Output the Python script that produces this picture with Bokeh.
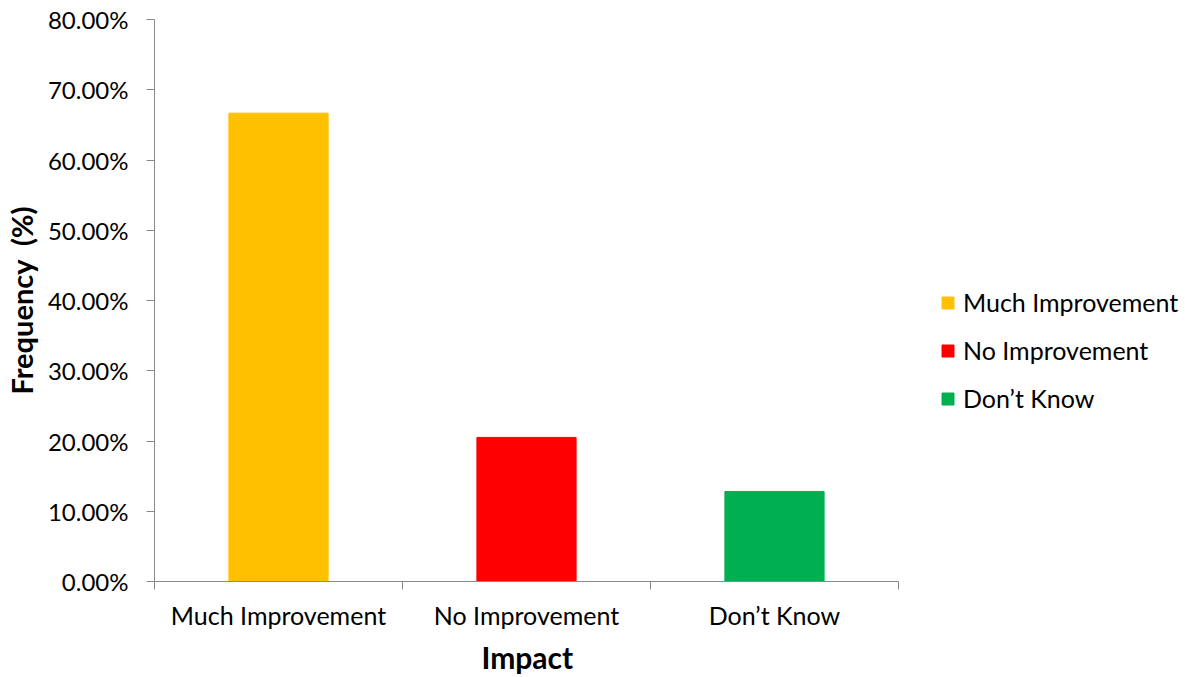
from bokeh.plotting import figure
from bokeh.models import (ColumnDataSource, FixedTicker, NumeralTickFormatter,
                          Range1d, Legend, LegendItem, Title)
from bokeh.embed import file_html
from bokeh.resources import INLINE

# Survey responses: share of respondents per perceived impact
categories = ["Much Improvement", "No Improvement", "Don\u2019t Know"]
frequency = [0.6667, 0.2051, 0.1282]
colors = ["#FFC000", "#FF0000", "#00B050"]
y_ticks = [0.0, 0.1, 0.2, 0.3, 0.4, 0.5, 0.6, 0.7, 0.8]

FONT = "Lato"
AXIS_GRAY = "#898989"

n = len(categories)
positions = [i + 0.5 for i in range(n)]
source = ColumnDataSource(dict(x=positions, top=frequency, color=colors, label=categories))

# the bar area spans 744 px; the frame continues to the right to hold the legend
BAR_AREA = 744
FRAME_W = 1031
p = figure(frame_width=FRAME_W, frame_height=562, output_backend="svg", toolbar_location=None,
           x_range=Range1d(0, n * FRAME_W / BAR_AREA), y_range=Range1d(0, 0.8))
p.min_border_left = 154
p.min_border_right = 0
p.min_border_top = 19
p.min_border_bottom = 0
p.outline_line_color = None
p.xgrid.visible = False
p.ygrid.visible = False

r = p.vbar(x="x", top="top", width=0.4, color="color", source=source)

# y axis: percentage ticks
p.yaxis.ticker = FixedTicker(ticks=y_ticks, minor_ticks=[])
p.yaxis.formatter = NumeralTickFormatter(format="0.00%")
p.yaxis.axis_line_color = AXIS_GRAY
p.yaxis.major_tick_line_color = AXIS_GRAY
p.yaxis.major_tick_out = 8
p.yaxis.major_tick_in = 0
p.yaxis.major_label_standoff = 18
p.yaxis.major_label_text_font = FONT
p.yaxis.major_label_text_font_size = "24px"
p.yaxis.major_label_text_color = "#000000"
p.yaxis.axis_label = "Frequency\u00a0\u00a0(%)"
p.yaxis.axis_label_text_font = FONT
p.yaxis.axis_label_text_font_size = "29px"
p.yaxis.axis_label_text_font_style = "bold"
p.yaxis.axis_label_text_color = "#000000"
p.yaxis.axis_label_standoff = 6

# x axis: labels at category centres, tick marks at category boundaries
p.xaxis.bounds = (0, n)
p.xaxis.ticker = FixedTicker(ticks=positions, minor_ticks=list(range(n + 1)))
p.xaxis.major_label_overrides = {pos: cat for pos, cat in zip(positions, categories)}
p.xaxis.axis_line_color = AXIS_GRAY
p.xaxis.major_tick_line_color = None
p.xaxis.minor_tick_line_color = AXIS_GRAY
p.xaxis.minor_tick_out = 8
p.xaxis.minor_tick_in = 0
p.xaxis.major_tick_out = 8
p.xaxis.major_label_standoff = 10
p.xaxis.major_label_text_font = FONT
p.xaxis.major_label_text_font_size = "25px"
p.xaxis.major_label_text_color = "#000000"

# x axis title, centred under the bar area rather than the whole frame
x_title = Title(text="Impact", align="left", offset=BAR_AREA / 2 - 45,
                text_font=FONT, text_font_size="30px", text_font_style="bold",
                text_color="#000000", standoff=9)
p.add_layout(x_title, "below")

items = [LegendItem(label=cat, renderers=[r], index=i) for i, cat in enumerate(categories)]
legend = Legend(items=items, location=(786, 168), orientation="vertical",
                border_line_color=None, background_fill_alpha=0,
                label_text_font=FONT, label_text_font_size="25px",
                label_text_color="#000000", label_height=30,
                glyph_width=15, glyph_height=15, label_standoff=8,
                spacing=18, padding=0, margin=0)
p.add_layout(legend, "center")

open("out.html", "w").write(file_html(p, INLINE))
